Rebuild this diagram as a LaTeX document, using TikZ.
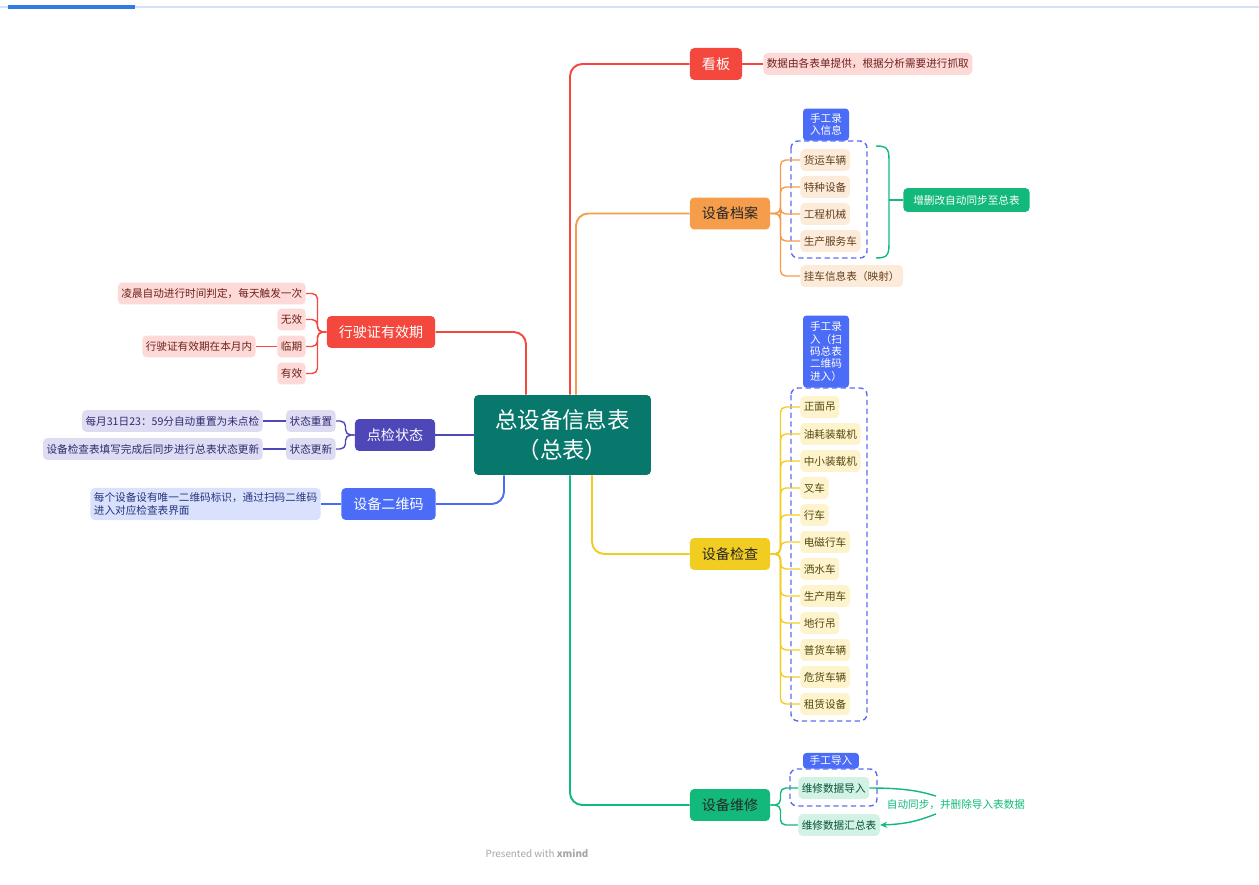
\documentclass[tikz,border=0pt]{standalone}
\usepackage{fontspec}
\setmainfont{Noto Sans CJK SC}
\usetikzlibrary{calc,arrows.meta}
\definecolor{rootc}{HTML}{08786C}
\definecolor{redc}{HTML}{F4473D}
\definecolor{orangec}{HTML}{F59D4B}
\definecolor{yellowc}{HTML}{F1CD22}
\definecolor{greenc}{HTML}{12B97A}
\definecolor{purplec}{HTML}{4D47B8}
\definecolor{bluec}{HTML}{4B6CF6}
\definecolor{redl}{HTML}{FDDAD7}
\definecolor{orangel}{HTML}{FDEBDA}
\definecolor{yellowl}{HTML}{FDF3CD}
\definecolor{greenl}{HTML}{D2F2E5}
\definecolor{purplel}{HTML}{DDDCF3}
\definecolor{bluel}{HTML}{DAE1FC}
\definecolor{dashc}{HTML}{5C6EF5}
\definecolor{barc}{HTML}{2F7CE2}
\definecolor{barl}{HTML}{D3E2F8}
\begin{document}
\begin{tikzpicture}[x=0.02cm,y=-0.02cm,
		every node/.style={inner sep=0pt},
		small/.style={font=\fontsize{6.05}{7}\selectfont},
		topic/.style={rounded corners=2.5pt, minimum height=0.64cm, inner xsep=0.24cm, font=\fontsize{8}{9.6}\selectfont},
		leaf/.style={small, rounded corners=2.5pt, minimum height=0.44cm, inner xsep=0.07cm},
		rleaf/.style={leaf, fill=redl, text=redc!45!black},
		oleaf/.style={leaf, fill=orangel, text=orangec!40!black},
		yleaf/.style={leaf, fill=yellowl, text=yellowc!35!black},
		gleaf/.style={leaf, fill=greenl, text=greenc!45!black},
		pleaf/.style={leaf, fill=purplel, text=purplec!60!black},
		bleaf/.style={leaf, fill=bluel, text=bluec!50!black},
		tag/.style={small, fill=bluec, text=white, rounded corners=2pt, inner xsep=0.07cm, inner ysep=0.1cm, align=center},
		dashbox/.style={draw=dashc, line width=0.8pt, rounded corners=4pt, dash pattern=on 3pt off 2pt},
		branch/.style={line width=1.1pt, rounded corners=7pt},
		twig/.style={line width=0.8pt, rounded corners=3pt},
		]
		\useasboundingbox (0,0) rectangle (1259,885);
		\draw[barl, line width=0.8pt] (0,7) -- (1259,7);
		\draw[barc, line width=2.3pt] (8,7) -- (135,7);
		% centre
		\node[fill=rootc, text=white, rounded corners=2.5pt, minimum width=3.54cm, minimum height=1.6cm,
			align=center, font=\fontsize{12.8}{17.5}\selectfont] (root) at (562.5,435) {总设备信息表\\（总表）};
		% right side
		\node[topic, fill=redc, text=white] (kb) at (716,64) {看板};
		\node[rleaf, anchor=west] (kbd) at (763,64) {数据由各表单提供，根据分析需要进行抓取};
		\node[topic, fill=orangec, text=black!85] (da) at (730,213.5) {设备档案};
		\node[oleaf, anchor=west] (da1) at (800,160) {货运车辆};
		\node[oleaf, anchor=west] (da2) at (800,187) {特种设备};
		\node[oleaf, anchor=west] (da3) at (800,214) {工程机械};
		\node[oleaf, anchor=west] (da4) at (800,241) {生产服务车};
		\node[oleaf, anchor=west] (da5) at (800,276) {挂车信息表（映射）};
		\draw[dashbox] (791,141) rectangle (867,258);
		\node[tag, minimum width=0.92cm, anchor=south] (tg1) at (826,141) {手工录\\入信息};
		\node[leaf, fill=greenc, text=white, inner xsep=0.2cm, minimum height=0.48cm, anchor=west] (sync) at (903,200) {增删改自动同步至总表};
		\draw[greenc, line width=0.8pt] (876,146) .. controls (889,146) and (889,150) .. (889,164)
			-- (889,240) .. controls (889,254) and (889,258) .. (876,258);
		\coordinate (bt) at (889,200);
		\draw[greenc, line width=0.8pt] (bt) -- (sync.west);
		\node[topic, fill=yellowc, text=black!85] (jc) at (730,554) {设备检查};
		\foreach \t [count=\i from 0] in {正面吊,油耗装载机,中小装载机,叉车,行车,电磁行车,洒水车,生产用车,地行吊,普货车辆,危货车辆,租赁设备}
		\node[yleaf, anchor=west] (jc\i) at (800,{407+27*\i}) {\t};
		\draw[dashbox] (791,388) rectangle (867,721);
		\node[tag, minimum width=0.92cm, inner ysep=0.13cm, anchor=south] (tg2) at (826,388) {手工录\\入（扫\\码总表\\二维码\\进入）};
		\node[topic, fill=greenc, text=black!85] (wx) at (730,805) {设备维修};
		\node[gleaf, anchor=west] (wdr) at (798,788) {维修数据导入};
		\node[gleaf, anchor=west] (wsum) at (798,825) {维修数据汇总表};
		\draw[dashbox] (790,769) rectangle (877,806);
		\node[tag, minimum width=1.12cm, inner ysep=0.06cm, anchor=south] (tg3) at (831,769) {手工导入};
		\node[small, text=greenc, inner ysep=2pt] (sl) at (956,805) {自动同步，并删除导入表数据};
		\draw[greenc, line width=0.8pt] (wdr.east) .. controls (912,788) and (925,793) .. ($(sl.north)+(-20,0)$);
		\draw[greenc, line width=0.8pt, -{Stealth[length=4pt,width=3.5pt]}] ($(sl.south)+(-20,0)$) .. controls (925,818) and (912,824) .. (wsum.east);
		% left side
		\node[topic, fill=redc, text=white] (xsz) at (381,332) {行驶证有效期};
		\node[rleaf, anchor=east] (xs1) at (306,293.5) {凌晨自动进行时间判定，每天触发一次};
		\node[rleaf, anchor=east] (xs2) at (306,319.5) {无效};
		\node[rleaf, anchor=east] (xs3) at (306,346.5) {临期};
		\node[rleaf, anchor=east] (xs4) at (306,373.5) {有效};
		\node[rleaf, anchor=east] (xs3d) at (256,346.5) {行驶证有效期在本月内};
		\node[topic, fill=purplec, text=white] (djz) at (395,435) {点检状态};
		\node[pleaf, anchor=east] (dj1) at (336,421) {状态重置};
		\node[pleaf, anchor=east] (dj2) at (336,449) {状态更新};
		\node[pleaf, anchor=east] (dj1d) at (263,421) {每月31日23：59分自动重置为未点检};
		\node[pleaf, anchor=east] (dj2d) at (263,449) {设备检查表填写完成后同步进行总表状态更新};
		\node[topic, fill=bluec, text=white] (ewm) at (388.5,504) {设备二维码};
		\node[bleaf, anchor=east, align=left, inner ysep=0.1cm] (ewmd) at (321,504) {每个设备设有唯一二维码标识，通过扫码二维码\\进入对应检查表界面};
		% connectors
		\draw[branch, redc] ($(root.north)+(7.5,0)$) |- (kb.west);
		\draw[branch, orangec] ($(root.north)+(13.5,0)$) |- (da.west);
		\draw[branch, yellowc] ($(root.south)+(29.5,0)$) |- (jc.west);
		\draw[branch, greenc] ($(root.south)+(7.5,0)$) |- (wx.west);
		\draw[branch, redc] ($(root.north)+(-36.5,0)$) |- (xsz.east);
		\draw[branch, purplec] (root.west) -- (djz.east);
		\draw[branch, bluec] ($(root.south)+(-58.5,0)$) |- (ewm.east);
		\draw[twig, redc] (kb.east) -- (kbd.west);
		\foreach \n in {da1,da2,da3,da4,da5}
		\draw[twig, orangec] (da.east) -- ++(10,0) |- (\n.west);
		\foreach \i in {0,...,11}
		\draw[twig, yellowc] (jc.east) -- ++(10,0) |- (jc\i.west);
		\foreach \n in {wdr,wsum}
		\draw[twig, greenc] (wx.east) -- ++(10,0) |- (\n.west);
		\foreach \n in {xs1,xs2,xs3,xs4}
		\draw[twig, redc] (xsz.west) -- ++(-9,0) |- (\n.east);
		\draw[twig, redc] (xs3.west) -- (xs3d.east);
		\foreach \n in {dj1,dj2}
		\draw[twig, purplec] (djz.west) -- ++(-9,0) |- (\n.east);
		\draw[twig, purplec] (dj1.west) -- (dj1d.east);
		\draw[twig, purplec] (dj2.west) -- (dj2d.east);
		\draw[twig, bluec] (ewm.west) -- (ewmd.east);
		\node[text=black!35, font=\fontsize{5.6}{7}\selectfont] (pw) at (537,853) {Presented with \textbf{xmind}};
	\end{tikzpicture}
\end{document}
